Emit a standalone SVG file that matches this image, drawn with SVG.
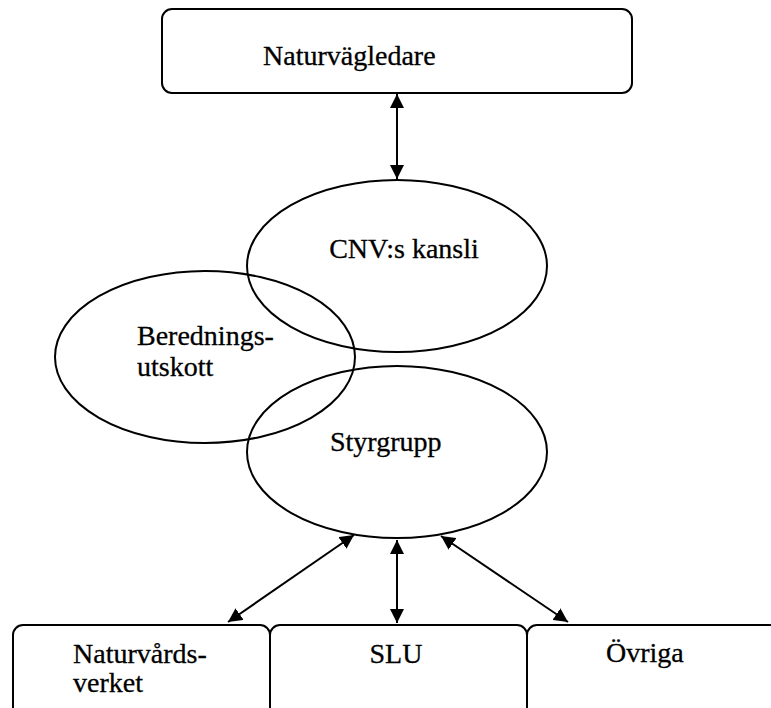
<svg xmlns="http://www.w3.org/2000/svg" width="771" height="708" viewBox="0 0 771 708">
<style>
.box{fill:#fff;stroke:#000;stroke-width:2}
.ell{fill:none;stroke:#000;stroke-width:2}
.lbl{font-family:"Liberation Serif","Times New Roman",serif;font-size:28px;fill:#000;stroke:#000;stroke-width:0.3}
.con{stroke:#000;stroke-width:2;fill:none;marker-start:url(#ah);marker-end:url(#ah)}
</style>
<defs>
<marker id="ah" viewBox="0 0 10 10" refX="10" refY="5" markerWidth="7" markerHeight="7" orient="auto-start-reverse" markerUnits="strokeWidth">
<path d="M0,0 L10,5 L0,10 z" fill="#000"/>
</marker>
</defs>
<rect width="771" height="708" fill="#fff"/>
<g id="naturvagledare">
<rect class="box" x="162" y="9" width="470" height="84" rx="10"/>
<text class="lbl" x="263" y="65">Naturvägledare</text>
</g>
<g id="beredningsutskott">
<ellipse class="ell" cx="205" cy="357" rx="150" ry="86"/>
<text class="lbl" x="137" y="345">Berednings-</text>
<text class="lbl" x="137" y="376">utskott</text>
</g>
<g id="cnv-kansli">
<ellipse class="ell" cx="397" cy="266" rx="150" ry="86"/>
<text class="lbl" x="404" y="258" text-anchor="middle">CNV:s kansli</text>
</g>
<g id="styrgrupp">
<ellipse class="ell" cx="397" cy="452" rx="150" ry="86"/>
<text class="lbl" x="330" y="451">Styrgrupp</text>
</g>
<g id="naturvardsverket">
<rect class="box" x="13" y="625" width="257" height="100" rx="10"/>
<text class="lbl" x="73" y="663">Naturvårds-</text>
<text class="lbl" x="73" y="692">verket</text>
</g>
<g id="slu">
<rect class="box" x="270" y="625" width="257" height="100" rx="10"/>
<text class="lbl" x="396" y="663" text-anchor="middle">SLU</text>
</g>
<g id="ovriga">
<rect class="box" x="527" y="625" width="270" height="100" rx="10"/>
<text class="lbl" x="606" y="662">Övriga</text>
</g>
<g id="connectors">
<line class="con" x1="397" y1="94" x2="397" y2="179"/>
<line class="con" x1="354" y1="535" x2="228" y2="622"/>
<line class="con" x1="397" y1="540" x2="397" y2="623"/>
<line class="con" x1="441" y1="536" x2="568" y2="622"/>
</g>
</svg>
